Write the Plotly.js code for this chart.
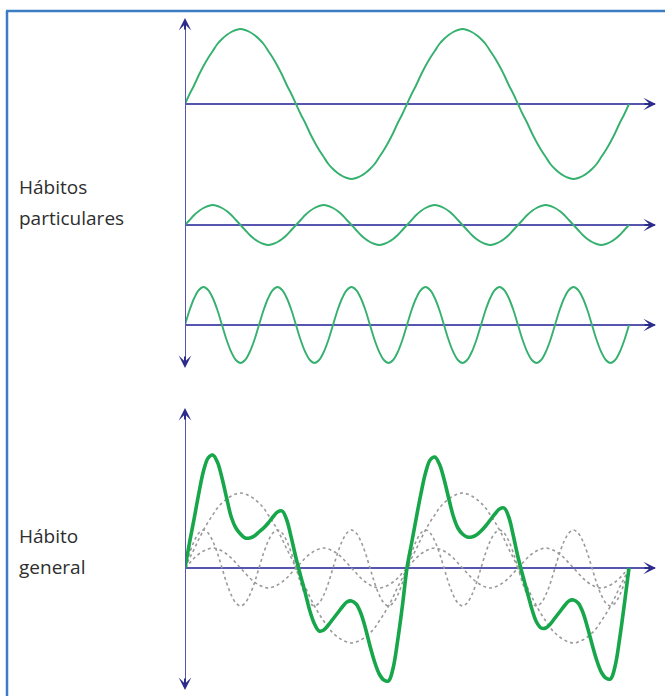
<!DOCTYPE html>
<html>
<head>
<meta charset="utf-8">
<script src="https://cdn.plot.ly/plotly-3.0.1.min.js"></script>
<style>
html,body{margin:0;padding:0;background:#ffffff;}
#chart{width:665px;height:696px;}
</style>
</head>
<body>
<div id="chart"></div>
<script>
// ---- data (in pixel-sized units above each baseline) ----
const xs = [0,0.25,0.5,0.75,1,1.25,1.5,1.75,2,2.25,2.5,2.75,3,3.25,3.5,3.75,
            4,4.25,4.5,4.75,5,5.25,5.5,5.75,6,6.25,6.5,6.75,7,7.25,7.5,7.75,
            8,8.25,8.5,8.75,9,9.25,9.5,9.75,10,10.25,10.5,10.75,11,11.25,11.5,11.75,
            12,12.25,12.5,12.75,13,13.25,13.5,13.75,14,14.25,14.5,14.75,15,15.25,15.5,15.75,
            16,16.25,16.5,16.75,17,17.25,17.5,17.75,18,18.25,18.5,18.75,19,19.25,19.5,19.75,
            20,20.25,20.5,20.75,21,21.25,21.5,21.75,22,22.25,22.5,22.75,23,23.25,23.5,23.75,24];

// particular habit 1 (slow, large)
const habitoA = [0,10,19,29,38,46,53,60,65,69,72,74,75,74,72,69,65,60,53,46,38,29,19,10,
                 0,-10,-19,-29,-38,-46,-53,-60,-65,-69,-72,-74,-75,-74,-72,-69,-65,-60,-53,-46,-38,-29,-19,-10,
                 0,10,19,29,38,46,53,60,65,69,72,74,75,74,72,69,65,60,53,46,38,29,19,10,
                 0,-10,-19,-29,-38,-46,-53,-60,-65,-69,-72,-74,-75,-74,-72,-69,-65,-60,-53,-46,-38,-29,-19,-10,0];
// particular habit 2 (small)
const habitoB = [0,5,10,14,17,19,20,19,17,14,10,5,0,-5,-10,-14,-17,-19,-20,-19,-17,-14,-10,-5,
                 0,5,10,14,17,19,20,19,17,14,10,5,0,-5,-10,-14,-17,-19,-20,-19,-17,-14,-10,-5,
                 0,5,10,14,17,19,20,19,17,14,10,5,0,-5,-10,-14,-17,-19,-20,-19,-17,-14,-10,-5,
                 0,5,10,14,17,19,20,19,17,14,10,5,0,-5,-10,-14,-17,-19,-20,-19,-17,-14,-10,-5,0];
// particular habit 3 (fast)
const habitoC = [0,15,27,35,38,35,27,15,0,-15,-27,-35,-38,-35,-27,-15,
                 0,15,27,35,38,35,27,15,0,-15,-27,-35,-38,-35,-27,-15,
                 0,15,27,35,38,35,27,15,0,-15,-27,-35,-38,-35,-27,-15,
                 0,15,27,35,38,35,27,15,0,-15,-27,-35,-38,-35,-27,-15,
                 0,15,27,35,38,35,27,15,0,-15,-27,-35,-38,-35,-27,-15,
                 0,15,27,35,38,35,27,15,0,-15,-27,-35,-38,-35,-27,-15,0];
// general habit (combined curve)
const habitoGeneral = [0,26,50,75,97,110,113,106,90,70,51,40,34,30,30,32,36,40,45,51,56,57,48,30,
                       10,-8,-25,-43,-56,-63,-62,-57,-51,-45,-39,-34,-33,-36,-45,-60,-78,-94,-106,-112,-113,-100,-72,-38,
                       0,25,50,74,95,108,111,104,89,70,52,40,34,31,31,33,37,42,48,54,59,60,51,32,
                       11,-7,-24,-41,-54,-60,-60,-56,-50,-44,-38,-33,-32,-35,-44,-59,-76,-92,-104,-110,-111,-98,-70,-36,0];

const labelsTop = ['Hábitos', 'particulares'];
const labelsBottom = ['Hábito', 'general'];

// ---- layout helpers (pixel -> paper) ----
const W = 665, H = 696;
const px = v => v / W;
const py = v => 1 - v / H;

const AXIS = '#5656b0';
const HEAD = '#2c2c8a';
const GREEN = '#35b06f';
const GREEN_BOLD = '#17a64a';
const GREY = '#9a9a9a';

function yax(center, half) {
  return {
    domain: [py(center + half), py(center - half)],
    range: [-half, half],
    showgrid: false, showticklabels: false, ticks: '', showline: false,
    zeroline: true, zerolinecolor: AXIS, zerolinewidth: 2,
    anchor: 'x', fixedrange: true
  };
}

const traces = [
  {x: xs, y: habitoA, xaxis: 'x', yaxis: 'y',  mode: 'lines', line: {color: GREEN, width: 1.9, shape: 'spline'}},
  {x: xs, y: habitoB, xaxis: 'x', yaxis: 'y2', mode: 'lines', line: {color: GREEN, width: 1.9, shape: 'spline'}},
  {x: xs, y: habitoC, xaxis: 'x', yaxis: 'y3', mode: 'lines', line: {color: GREEN, width: 1.9, shape: 'spline'}},
  {x: xs, y: habitoA, xaxis: 'x', yaxis: 'y4', mode: 'lines', line: {color: GREY, width: 1.6, dash: 'dot', shape: 'spline'}},
  {x: xs, y: habitoB, xaxis: 'x', yaxis: 'y4', mode: 'lines', line: {color: GREY, width: 1.6, dash: 'dot', shape: 'spline'}},
  {x: xs, y: habitoC, xaxis: 'x', yaxis: 'y4', mode: 'lines', line: {color: GREY, width: 1.6, dash: 'dot', shape: 'spline'}},
  {x: xs, y: habitoGeneral, xaxis: 'x', yaxis: 'y4', mode: 'lines', line: {color: GREEN_BOLD, width: 3.6, shape: 'spline'}}
];

function head(xp, yp, ax, ay) {
  return {xref: 'paper', yref: 'paper', x: px(xp), y: py(yp), ax: ax, ay: ay,
          text: '', showarrow: true, arrowhead: 3, arrowsize: 1.05, arrowwidth: 2,
          arrowcolor: HEAD, font: {size: 1}};
}
function label(txt, yc) {
  return {xref: 'paper', yref: 'paper', x: px(17), y: py(yc), xanchor: 'left', yanchor: 'middle',
          text: txt, showarrow: false, font: {family: 'Open Sans, Noto Sans, sans-serif', size: 19, color: '#2e2e2e'}};
}

const layout = {
  width: W, height: H,
  margin: {l: 0, r: 0, t: 0, b: 0},
  paper_bgcolor: '#ffffff', plot_bgcolor: 'rgba(0,0,0,0)',
  showlegend: false,
  xaxis: {domain: [px(185), px(655)], range: [0, 24 * 470 / 444], visible: false, fixedrange: true, anchor: 'y'},
  yaxis: yax(104, 80),
  yaxis2: yax(225, 24),
  yaxis3: yax(325, 42),
  yaxis4: yax(568, 122),
  shapes: [
    // frame
    {type: 'line', xref: 'paper', yref: 'paper', x0: px(7), x1: px(7), y0: py(11), y1: py(702), line: {color: '#3b7cc3', width: 2.5}},
    {type: 'line', xref: 'paper', yref: 'paper', x0: px(6), x1: px(670), y0: py(11), y1: py(11), line: {color: '#3b7cc3', width: 2.5}},
    // vertical axes
    {type: 'line', xref: 'x', yref: 'paper', x0: 0, x1: 0, y0: py(24), y1: py(362), line: {color: AXIS, width: 2}},
    {type: 'line', xref: 'x', yref: 'paper', x0: 0, x1: 0, y0: py(414), y1: py(684), line: {color: AXIS, width: 2}}
  ],
  annotations: [
    head(185, 18, 0, 13), head(185, 368, 0, -13),
    head(185, 408, 0, 13), head(185, 690, 0, -13),
    head(656, 104, -13, 0), head(656, 225, -13, 0), head(656, 325, -13, 0), head(656, 568, -13, 0),
    label(labelsTop[0], 187), label(labelsTop[1], 218),
    label(labelsBottom[0], 536), label(labelsBottom[1], 567)
  ]
};

Plotly.newPlot('chart', traces, layout, {staticPlot: true, displayModeBar: false});
</script>
</body>
</html>
